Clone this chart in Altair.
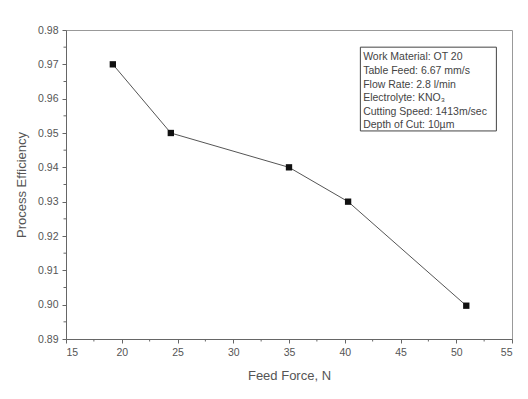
import altair as alt
import pandas as pd

feed_force = [19.2, 24.4, 35.0, 40.3, 50.9]
efficiency = [0.970, 0.950, 0.940, 0.930, 0.8997]

x_major = [15, 20, 25, 30, 35, 40, 45, 50, 55]
x_minor = [17.5, 22.5, 27.5, 32.5, 37.5, 42.5, 47.5, 52.5]
y_major = [0.89, 0.90, 0.91, 0.92, 0.93, 0.94, 0.95, 0.96, 0.97, 0.98]
y_minor = [0.895, 0.905, 0.915, 0.925, 0.935, 0.945, 0.955, 0.965, 0.975]

legend_lines = ["Work Material: OT 20", "Table Feed: 6.67 mm/s", "Flow Rate: 2.8 l/min",
                "Electrolyte: KNO₃", "Cutting Speed: 1413m/sec", "Depth of Cut: 10µm"]
box_x = [41.4, 53.6]
box_y = [0.9750, 0.9506]
text_x = 41.65
text_y_top = 0.9735

W, H = 446, 309
FONT = "Liberation Sans"
GRAY = "#555555"

df = pd.DataFrame({"x": feed_force, "y": efficiency})

xs = alt.Scale(domain=[15, 55], nice=False, zero=False)
ys = alt.Scale(domain=[0.89, 0.98], nice=False, zero=False)

common = dict(grid=False, tickSize=4, labelFontSize=10.5, titleFontSize=13, labelColor=GRAY,
              titleColor=GRAY, domainColor="#666", tickColor="#666", labelFont=FONT, titleFont=FONT,
              titleFontWeight="normal", labelOverlap=False, labelPadding=4)
xaxis = alt.Axis(values=x_major, title="Feed Force, N", titlePadding=12, **common)
yaxis = alt.Axis(values=y_major, format=".2f", title="Process Efficiency", titlePadding=9, **common)


def X(f="x"):
    return alt.X(f"{f}:Q", scale=xs, axis=xaxis, title="Feed Force, N")


def Y(f="y"):
    return alt.Y(f"{f}:Q", scale=ys, axis=yaxis, title="Process Efficiency")


base = alt.Chart(df)
line = base.mark_line(color="#555555", strokeWidth=1).encode(x=X(), y=Y())
pts = base.mark_point(shape="square", filled=True, color="#111111", size=40, opacity=1).encode(x=X(), y=Y())

xm = alt.Chart(pd.DataFrame({"x": x_minor})).mark_rule(color="#666", strokeWidth=1).encode(
    x=X(), y=alt.value(H), y2=alt.value(H + 2.5))
ym = alt.Chart(pd.DataFrame({"y": y_minor})).mark_rule(color="#666", strokeWidth=1).encode(
    y=Y(), x=alt.value(0), x2=alt.value(-2.5))

box = alt.Chart(pd.DataFrame({"x": [box_x[0]], "x2": [box_x[1]], "y": [box_y[0]], "y2": [box_y[1]]})).mark_rect(
    fill="white", stroke="#444", strokeWidth=1).encode(x=X(), x2="x2:Q", y=Y(), y2="y2:Q")

txt = alt.Chart(pd.DataFrame({"x": [text_x], "y": [text_y_top], "t": [legend_lines]})).mark_text(
    align="left", baseline="top", fontSize=10.5, font=FONT, color="#444", lineHeight=13.6).encode(
    x=X(), y=Y(), text="t")

chart = alt.layer(line, pts, xm, ym, box, txt).properties(
    width=W, height=H,
    autosize=alt.AutoSizeParams(type="none"),
    padding={"left": 66, "top": 30, "right": 16, "bottom": 60},
    background="white",
).configure_view(stroke="#999999", strokeWidth=1)

chart.save("out.html", embed_options={"renderer": "svg", "actions": False})
